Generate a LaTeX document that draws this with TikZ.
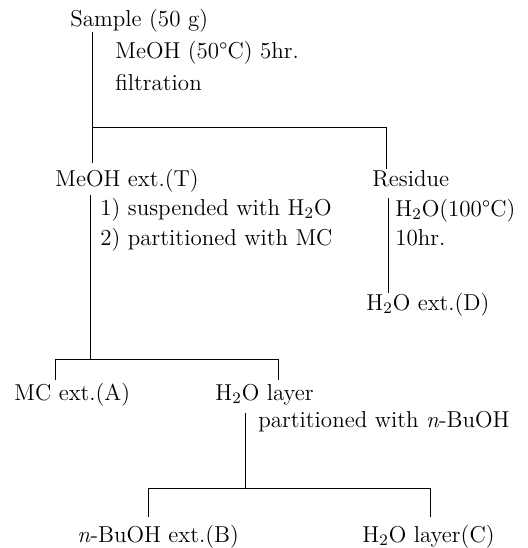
\documentclass[tikz,border=0pt]{standalone}
\usepackage{tikz}
\tikzset{
    txt/.style={anchor=base west, inner sep=0pt, text height=8.5pt, text depth=3pt},
    branch/.style={line width=0.4pt}
}
\begin{document}
\begin{tikzpicture}
    \fontsize{11.5}{14}\selectfont
    \begin{scope}[x=0.5pt,y=-0.5pt]
        \useasboundingbox (0,0) rectangle (528,548);
        \node[txt] (sample)  at (70,26)   {Sample (50 g)};
        \node[txt] (meoh)    at (55,186)  {MeOH ext.(T)};
        \node[txt] (residue) at (372,186) {Residue};
        \node[txt] (h2oD)    at (366,310) {H$_2$O ext.(D)};
        \node[txt] (mcA)     at (14,400)  {MC ext.(A)};
        \node[txt] (h2oL)    at (215,400) {H$_2$O layer};
        \node[txt] (buohB)   at (77,542)  {\textit{n}-BuOH ext.(B)};
        \node[txt] (h2oC)    at (362,542) {H$_2$O layer(C)};
        \node[txt] (cond1a)  at (115,58)  {MeOH (50\textdegree C) 5hr.};
        \node[txt] (cond1b)  at (115,90)  {filtration};
        \node[txt] (cond2a)  at (100,215) {1) suspended with H$_2$O};
        \node[txt] (cond2b)  at (100,245) {2) partitioned with MC};
        \node[txt] (cond3a)  at (395,216) {H$_2$O(100\textdegree C)};
        \node[txt] (cond3b)  at (395,245) {10hr.};
        \node[txt] (cond4)   at (258,427) {partitioned with \textit{n}-BuOH};
        \coordinate (j1)  at (92,127);
        \coordinate (j1r) at (386,127);
        \coordinate (j2)  at (90,359);
        \coordinate (j2l) at (55,359);
        \coordinate (j2r) at (278,359);
        \coordinate (rx)  at (388,250);
        \coordinate (j3)  at (245,488);
        \coordinate (j3l) at (148,488);
        \coordinate (j3r) at (430,488);
        \draw[branch,shorten >=3pt] (sample.south -| j1) -- (meoh.north -| j1);
        \draw[branch] (j1) -- (j1r) -- (residue.north -| j1r);
        \draw[branch,shorten <=1.5pt] (meoh.south -| j2) -- (j2);
        \draw[branch] (j2l) -- (j2r);
        \draw[branch,shorten >=1.5pt] (j2l) -- (mcA.north -| j2l);
        \draw[branch,shorten >=1.5pt] (j2r) -- (h2oL.north -| j2r);
        \draw[branch,shorten <=3pt] (residue.south -| rx) -- (h2oD.north -| rx);
        \draw[branch,shorten <=3.5pt] (h2oL.south -| j3) -- (j3);
        \draw[branch] (j3l) -- (j3r);
        \draw[branch,shorten >=4pt] (j3l) -- (buohB.north -| j3l);
        \draw[branch,shorten >=4pt] (j3r) -- (h2oC.north -| j3r);
    \end{scope}
\end{tikzpicture}
\end{document}
